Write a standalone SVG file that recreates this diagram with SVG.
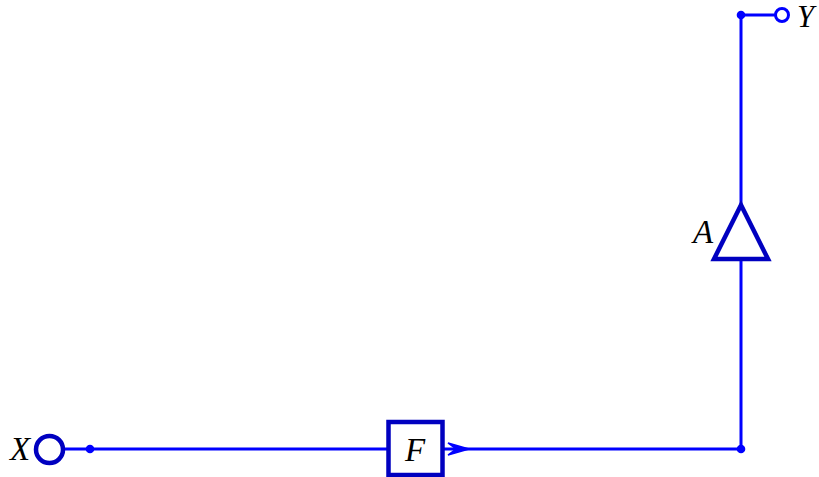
<svg xmlns="http://www.w3.org/2000/svg" width="819" height="477" viewBox="0 0 819 477">
<style>
.w{fill:none;stroke:#0000ff;stroke-width:3}
.d{fill:#0000ff}
.s{fill:#fff;stroke:#0000c0;stroke-width:4.500}
text{font-family:"Liberation Serif",serif;font-style:italic;font-size:33px;fill:#000}
</style>
<rect width="819" height="477" fill="#fff"/>
<g id="connectors">
<path class="w" d="M64 449H388M443 449H741V259M741 204V15H775"/>
<path d="M448 443L469 449L448 455L456 449Z" fill="#0000ff" stroke="#0000ff" stroke-width="1.500"/>
<circle class="d" cx="90" cy="449" r="4.300"/>
<circle class="d" cx="741" cy="449" r="4.300"/>
<circle class="d" cx="741" cy="15" r="4.300"/>
</g>
<g id="node-x">
<circle class="s" cx="49.500" cy="449.500" r="13.500"/>
<text x="10" y="460">X</text>
</g>
<g id="node-f">
<rect class="s" x="388.500" y="422" width="54" height="53"/>
<text x="405" y="461">F</text>
</g>
<g id="node-a">
<path class="s" d="M741 205L768 259H714Z"/>
<text x="693" y="243">A</text>
</g>
<g id="node-y">
<circle cx="782" cy="15" r="6.500" fill="#fff" stroke="#0000ff" stroke-width="3"/>
<text x="797" y="26.500" style="font-size:30.500px">Y</text>
</g>
</svg>
